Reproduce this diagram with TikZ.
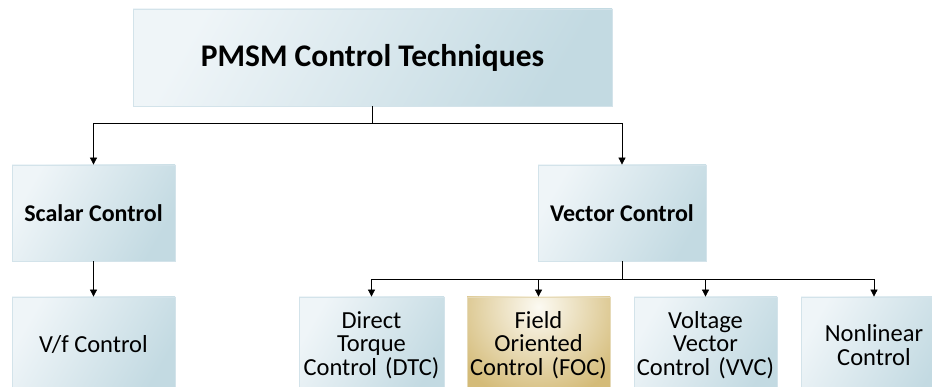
\documentclass[tikz,border=0pt]{standalone}
\usepackage{fontspec}
\setmainfont{Carlito}
\usetikzlibrary{arrows.meta}

\definecolor{boxlight}{HTML}{EFF5F8}
\definecolor{boxdark}{HTML}{C3DAE2}
\definecolor{boxedge}{HTML}{D3E3EA}
\definecolor{goldlight}{HTML}{FCFAF2}
\definecolor{golddark}{HTML}{D4BB78}
\definecolor{goldedge}{HTML}{E6DAB8}

\tikzset{
  blockbox/.style={rectangle, draw=boxedge, line width=0.8pt, inner sep=2pt,
    align=center, left color=boxlight, right color=boxdark, shading angle=60},
  goldbox/.style={rectangle, draw=goldedge, line width=0.8pt, inner sep=2pt,
    align=center, fill=golddark,
    path picture={\shade[inner color=goldlight, outer color=golddark]
      ([yshift=-10pt]path picture bounding box.north) circle (95pt);}},
  titletext/.style={font=\fontsize{31.5}{36}\selectfont\bfseries},
  headtext/.style={font=\fontsize{24}{28}\selectfont\bfseries},
  leaftext/.style={font=\fontsize{24.5}{23.5}\selectfont},
  link/.style={draw=black, line width=0.8pt},
  arrowlink/.style={link, -{Triangle[length=7pt,width=7pt]}},
}

\begin{document}
\begin{tikzpicture}[x=1pt, y=-1pt]
  \useasboundingbox (0,0) rectangle (932,387);

  % root
  \node[blockbox, titletext, minimum width=479pt, minimum height=97pt]
    (root) at (372.5,57.5) {PMSM Control Techniques};

  % first level
  \node[blockbox, headtext, minimum width=163pt, minimum height=96pt]
    (scalar) at (93.5,213) {Scalar Control};
  \node[blockbox, headtext, minimum width=168pt, minimum height=96pt]
    (vector) at (622,213) {Vector Control};

  % second level
  \node[blockbox, leaftext, minimum width=163pt, minimum height=96pt]
    (vf) at (93.5,345) {V/f Control};
  \node[blockbox, leaftext, minimum width=145pt, minimum height=96pt, text width=141pt]
    (dtc) at (371.5,345) {Direct\\Torque\\Control (DTC)};
  \node[goldbox, leaftext, minimum width=143pt, minimum height=96pt, text width=139pt]
    (foc) at (538.5,345) {Field\\Oriented\\Control (FOC)};
  \node[blockbox, leaftext, minimum width=143pt, minimum height=96pt, text width=139pt]
    (vvc) at (705.5,345) {Voltage\\Vector\\Control (VVC)};
  \node[blockbox, leaftext, minimum width=146pt, minimum height=96pt, text width=142pt]
    (nlc) at (874,345) {Nonlinear\\Control};

  % connectors
  \draw[link] (root.south) -- ++(0,17) coordinate (rootjoin);
  \draw[arrowlink] (rootjoin) -| (scalar.north);
  \draw[arrowlink] (rootjoin) -| (vector.north);

  \draw[arrowlink] (scalar.south) -- (vf.north);

  \draw[link] (vector.south) -- ++(0,18) coordinate (vecjoin);
  \draw[arrowlink] (vecjoin) -| (dtc.north);
  \draw[arrowlink] (vecjoin) -| (foc.north);
  \draw[arrowlink] (vecjoin) -| (vvc.north);
  \draw[arrowlink] (vecjoin) -| (nlc.north);
\end{tikzpicture}
\end{document}
